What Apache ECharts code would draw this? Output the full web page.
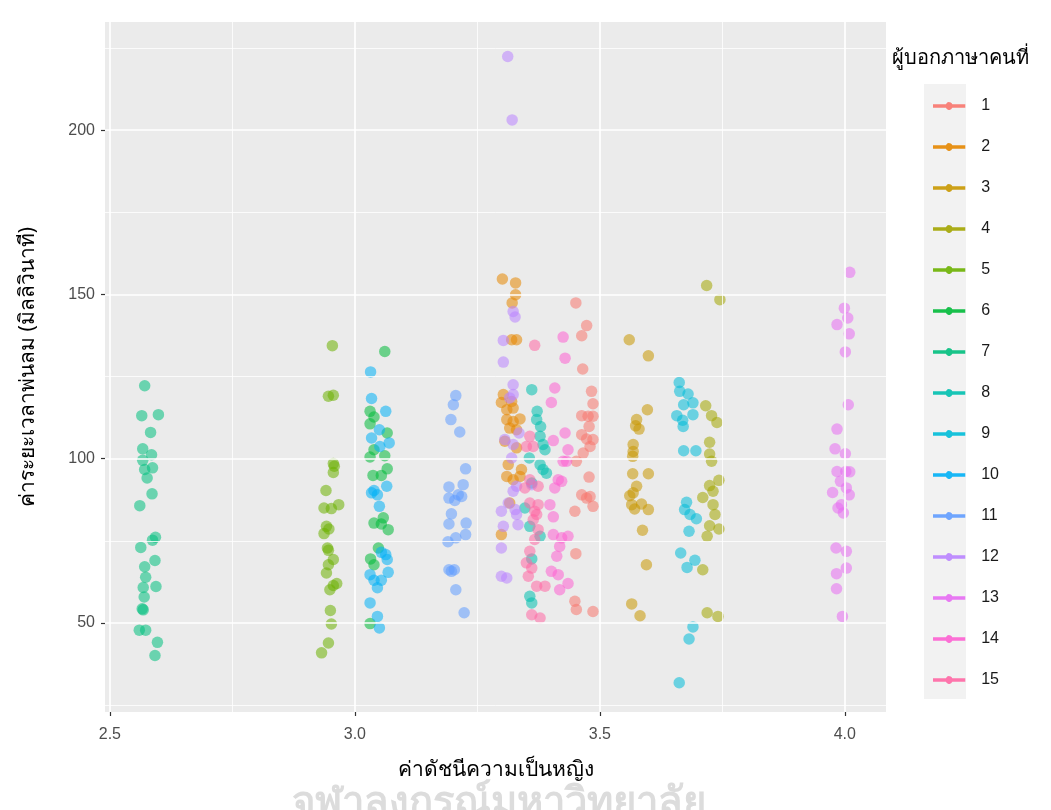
<!DOCTYPE html>
<html>
<head>
<meta charset="utf-8">
<title>ค่าระยะเวลาพ่นลม</title>
<script src="https://cdn.jsdelivr.net/npm/echarts@6/dist/echarts.min.js"></script>
<style>
  html, body { margin: 0; padding: 0; background: #fff; }
  #chart { width: 1051px; height: 810px; }
</style>
</head>
<body>
<div id="chart"></div>
<script>
// values: [ค่าดัชนีความเป็นหญิง, ค่าระยะเวลาพ่นลม]
const speaker1 = [[3.451,147.4],[3.473,140.5],[3.463,137.4],[3.465,127.3],[3.483,120.5],[3.486,116.7],[3.463,113.1],[3.476,112.9],[3.486,112.9],[3.478,109.8],[3.463,107.3],[3.473,106.0],[3.486,105.8],[3.480,103.7],[3.452,99.2],[3.466,101.7],[3.478,94.4],[3.463,89.0],[3.473,88.0],[3.486,85.5],[3.480,88.5],[3.449,84.0],[3.451,71.1],[3.449,56.6],[3.452,54.1],[3.486,53.5]]
const speaker2 = [[3.301,154.7],[3.328,153.5],[3.328,149.9],[3.321,147.4],[3.320,136.2],[3.330,136.2],[3.303,119.5],[3.299,117.1],[3.320,117.4],[3.323,115.4],[3.310,114.9],[3.310,111.9],[3.323,111.3],[3.337,112.1],[3.316,109.3],[3.330,108.8],[3.330,103.3],[3.306,105.3],[3.313,98.2],[3.310,94.6],[3.323,93.6],[3.340,96.7],[3.337,94.6],[3.316,86.5],[3.299,76.9]]
const speaker3 = [[3.560,136.2],[3.599,131.3],[3.597,114.9],[3.575,111.9],[3.573,110.0],[3.580,109.0],[3.568,104.3],[3.568,102.2],[3.567,100.7],[3.567,95.4],[3.599,95.4],[3.575,91.6],[3.568,89.6],[3.561,88.7],[3.571,84.7],[3.585,86.2],[3.599,84.5],[3.565,86.0],[3.587,78.2],[3.595,67.7],[3.565,55.8],[3.582,52.2]]
const speaker4 = [[3.718,152.7],[3.745,148.4],[3.716,116.1],[3.728,113.1],[3.739,111.0],[3.724,105.0],[3.724,101.4],[3.728,99.2],[3.743,93.4],[3.724,91.8],[3.710,88.2],[3.731,90.1],[3.731,86.0],[3.735,83.0],[3.724,79.6],[3.743,78.6],[3.719,76.4],[3.710,66.2],[3.719,53.1],[3.741,52.0]]
const speaker5 = [[2.954,134.4],[2.946,119.0],[2.956,119.3],[2.956,98.5],[2.958,97.7],[2.956,95.8],[2.941,90.3],[2.937,85.0],[2.952,84.8],[2.967,86.0],[2.942,79.4],[2.947,78.6],[2.937,77.2],[2.944,72.8],[2.946,72.1],[2.956,69.3],[2.946,67.7],[2.942,65.2],[2.963,62.0],[2.956,61.4],[2.949,60.1],[2.950,53.8],[2.952,49.7],[2.946,43.9],[2.932,40.9]]
const speaker6 = [[3.061,132.6],[3.031,114.4],[3.039,112.7],[3.031,110.6],[3.066,107.8],[3.039,102.7],[3.061,100.9],[3.031,100.5],[3.066,96.9],[3.037,94.9],[3.054,94.9],[3.039,80.4],[3.054,80.1],[3.058,82.0],[3.068,78.4],[3.048,72.8],[3.032,69.5],[3.039,67.7],[3.031,49.8]]
const speaker7 = [[2.571,122.2],[2.565,113.1],[2.599,113.4],[2.583,108.0],[2.567,103.0],[2.585,101.2],[2.567,99.5],[2.587,97.2],[2.571,96.7],[2.576,94.1],[2.586,89.3],[2.561,85.7],[2.593,76.1],[2.587,75.2],[2.563,73.0],[2.592,69.0],[2.571,67.1],[2.573,63.9],[2.568,60.8],[2.594,61.1],[2.570,57.9],[2.566,54.3],[2.568,54.0],[2.560,47.8],[2.573,47.8],[2.597,44.1],[2.592,40.1]]
const speaker8 = [[3.361,121.0],[3.372,114.4],[3.371,111.9],[3.379,109.8],[3.378,106.8],[3.384,104.3],[3.388,102.7],[3.356,100.2],[3.378,98.2],[3.384,96.7],[3.391,95.6],[3.361,92.6],[3.347,85.0],[3.357,79.4],[3.378,76.4],[3.361,69.5],[3.357,58.1],[3.361,56.1]]
const speaker9 = [[3.662,123.2],[3.663,120.5],[3.680,119.7],[3.671,116.4],[3.690,117.0],[3.657,113.1],[3.669,111.7],[3.690,113.4],[3.670,109.8],[3.671,102.4],[3.696,102.4],[3.677,86.7],[3.673,84.5],[3.684,83.0],[3.697,81.7],[3.682,77.9],[3.665,71.3],[3.678,66.9],[3.694,69.1],[3.690,48.8],[3.682,45.1],[3.662,31.8]]
const speaker10 = [[3.032,126.4],[3.034,118.3],[3.063,114.4],[3.050,108.8],[3.034,106.3],[3.051,103.7],[3.070,104.8],[3.065,91.6],[3.039,90.3],[3.034,89.6],[3.046,89.0],[3.050,85.5],[3.063,70.8],[3.054,71.5],[3.066,69.3],[3.068,65.4],[3.031,64.7],[3.039,63.0],[3.054,63.0],[3.046,60.7],[3.031,56.1],[3.046,52.0],[3.050,48.5]]
const speaker11 = [[3.206,119.2],[3.201,116.4],[3.196,111.9],[3.214,108.1],[3.226,96.9],[3.192,91.4],[3.221,92.1],[3.211,89.0],[3.192,88.0],[3.204,87.3],[3.218,88.5],[3.197,83.2],[3.192,80.1],[3.227,80.4],[3.226,76.9],[3.206,75.9],[3.190,74.7],[3.192,66.2],[3.203,66.2],[3.197,65.7],[3.206,60.1],[3.223,53.1]]
const speaker12 = [[3.312,222.4],[3.321,203.1],[3.323,144.8],[3.327,143.1],[3.303,136.0],[3.303,129.4],[3.323,122.5],[3.323,119.5],[3.316,118.5],[3.335,107.8],[3.306,105.8],[3.323,104.3],[3.320,100.2],[3.330,91.6],[3.323,90.1],[3.361,92.1],[3.313,86.5],[3.299,84.0],[3.327,84.5],[3.330,83.0],[3.303,79.4],[3.333,79.9],[3.299,72.8],[3.299,64.2],[3.310,63.7]]
const speaker13 = [[4.010,156.7],[3.999,145.8],[4.006,142.8],[3.984,140.8],[4.009,138.0],[4.001,132.5],[4.007,116.4],[3.984,109.0],[3.980,103.0],[4.001,101.5],[3.984,96.1],[4.002,96.1],[4.010,96.0],[3.991,93.1],[3.975,89.7],[4.003,91.1],[4.009,89.0],[3.993,86.0],[3.986,85.0],[3.997,83.5],[3.982,72.8],[4.003,71.8],[4.003,66.7],[3.983,65.0],[3.983,60.4],[3.995,52.0]]
const speaker14 = [[3.425,137.0],[3.429,130.6],[3.408,121.5],[3.401,117.1],[3.429,107.8],[3.405,105.5],[3.435,102.7],[3.425,99.2],[3.432,99.2],[3.415,93.6],[3.422,93.1],[3.408,91.1],[3.398,86.0],[3.405,82.3],[3.405,76.9],[3.422,75.9],[3.435,76.4],[3.418,73.3],[3.412,70.3],[3.401,65.7],[3.415,64.7],[3.435,62.0],[3.418,60.1]]
const speaker15 = [[3.367,134.5],[3.357,106.8],[3.350,103.7],[3.364,103.7],[3.357,93.6],[3.374,91.6],[3.347,91.1],[3.357,86.5],[3.367,84.0],[3.371,83.0],[3.364,81.4],[3.374,86.0],[3.374,78.4],[3.367,75.4],[3.357,71.8],[3.350,68.3],[3.361,66.7],[3.354,64.2],[3.371,61.2],[3.388,61.2],[3.361,52.5],[3.378,51.5]]

const speakers = [speaker1, speaker2, speaker3, speaker4, speaker5, speaker6, speaker7, speaker8,
  speaker9, speaker10, speaker11, speaker12, speaker13, speaker14, speaker15]
const speakerNames = ['1', '2', '3', '4', '5', '6', '7', '8', '9', '10', '11', '12', '13', '14', '15']

const xTicks = [2.5, 3.0, 3.5, 4.0]
const xMinor = [2.75, 3.25, 3.75]
const yTicks = [50, 100, 150, 200]
const yMinor = [25, 75, 125, 175, 225]

// ggplot default hue palette for 15 levels
const palette = ['#F8766D', '#E58700', '#C99800', '#A3A500', '#6BB100', '#00BA38', '#00BF7D', '#00C0AF',
  '#00BCD8', '#00B0F6', '#619CFF', '#B983FF', '#E76BF3', '#FD61D1', '#FF67A4']

const thaiFont = "'Noto Sans', 'DejaVu Sans', 'Liberation Sans', sans-serif"
const keyIcon = 'path://M0,1.9 H13.6 A3.8,3.8 0 0,1 20.4,1.9 H34 V5.7 H20.4 A3.8,3.8 0 0,1 13.6,5.7 H0 Z'

const chart = echarts.init(document.getElementById('chart'), null, { renderer: 'canvas' })

// panel grid lines (white, major thicker than minor)
const gridLines = []
yMinor.forEach(v => gridLines.push({ yAxis: v, lineStyle: { width: 0.8 } }))
xMinor.forEach(v => gridLines.push({ xAxis: v, lineStyle: { width: 0.8 } }))
yTicks.forEach(v => gridLines.push({ yAxis: v, lineStyle: { width: 1.7 } }))
xTicks.forEach(v => gridLines.push({ xAxis: v, lineStyle: { width: 1.7 } }))

const series = [{
  name: 'grid',
  type: 'line',
  data: [],
  silent: true,
  markLine: {
    silent: true,
    symbol: ['none', 'none'],
    label: { show: false },
    lineStyle: { color: '#FFFFFF', type: 'solid' },
    emphasis: { disabled: true },
    animation: false,
    data: gridLines
  }
}]
speakers.forEach((pts, i) => {
  series.push({
    name: speakerNames[i],
    type: 'scatter',
    symbol: 'circle',
    symbolSize: 11.5,
    itemStyle: { color: palette[i], opacity: 0.55 },
    data: pts
  })
})

const option = {
  animation: false,
  backgroundColor: '#FFFFFF',
  grid: {
    left: 105,
    right: 165,
    top: 22,
    bottom: 98,
    show: true,
    backgroundColor: '#EBEBEB',
    borderWidth: 0
  },
  xAxis: {
    type: 'value',
    min: 2.49,
    max: 4.084,
    name: 'ค่าดัชนีความเป็นหญิง',
    nameLocation: 'middle',
    nameGap: 48,
    nameTextStyle: { fontFamily: thaiFont, fontSize: 21, color: '#000000' },
    axisLine: { show: false },
    splitLine: { show: false },
    axisTick: { show: true, length: 4, customValues: xTicks, lineStyle: { color: '#333333', width: 1.2 } },
    axisLabel: {
      customValues: xTicks,
      margin: 15,
      fontFamily: "'Liberation Sans', Arial, sans-serif",
      fontSize: 16,
      color: '#4D4D4D',
      formatter: v => v.toFixed(1)
    }
  },
  yAxis: {
    type: 'value',
    min: 22.9,
    max: 232.9,
    name: 'ค่าระยะเวลาพ่นลม (มิลลิวินาที)',
    nameLocation: 'middle',
    nameGap: 66,
    nameTextStyle: { fontFamily: thaiFont, fontSize: 21, color: '#000000' },
    axisLine: { show: false },
    splitLine: { show: false },
    axisTick: { show: true, length: 4, customValues: yTicks, lineStyle: { color: '#333333', width: 1.2 } },
    axisLabel: {
      customValues: yTicks,
      margin: 10,
      fontFamily: "'Liberation Sans', Arial, sans-serif",
      fontSize: 16,
      color: '#4D4D4D'
    }
  },
  legend: {
    data: speakerNames,
    orient: 'vertical',
    left: 928,
    top: 91,
    itemWidth: 34,
    itemHeight: 7.6,
    itemGap: 21,
    icon: keyIcon,
    itemStyle: { opacity: 0.9 },
    selectedMode: false,
    textStyle: {
      fontFamily: "'Liberation Sans', Arial, sans-serif",
      fontSize: 16,
      lineHeight: 20,
      color: '#1A1A1A',
      padding: [0, 0, 0, 10]
    }
  },
  graphic: [
    {
      type: 'rect',
      z: -1,
      shape: { x: 924, y: 84, width: 42, height: 615 },
      style: { fill: '#F2F2F2' }
    },
    {
      type: 'text',
      left: 892,
      top: 48,
      style: { text: 'ผู้บอกภาษาคนที่', font: "20px " + thaiFont, fill: '#000000' }
    },
    {
      type: 'text',
      left: 292,
      top: 784,
      z: -2,
      style: { text: 'จุฬาลงกรณ์มหาวิทยาลัย', font: "bold 40px " + thaiFont, fill: '#DCDCDC' }
    }
  ],
  series: series
}

option && chart.setOption(option)
</script>
</body>
</html>
